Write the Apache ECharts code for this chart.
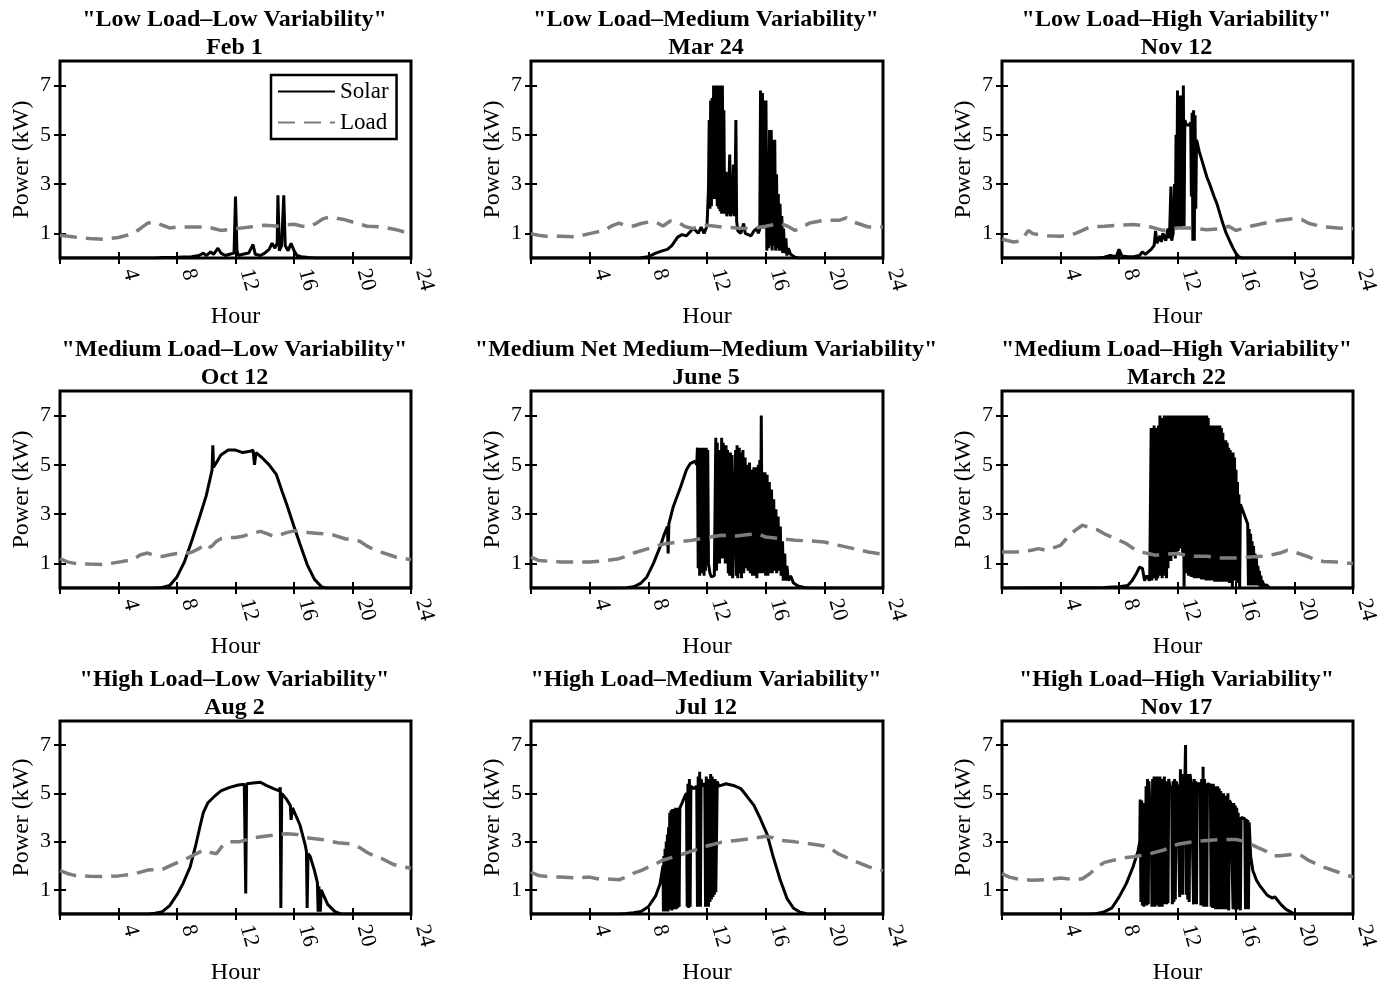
<!DOCTYPE html>
<html><head><meta charset="utf-8">
<script src="https://cdn.jsdelivr.net/npm/echarts@6/dist/echarts.min.js"></script>
<style>html,body{margin:0;padding:0;background:#fff}#c{width:1383px;height:986px}</style>
</head><body><div id="c"></div>
<script>
// ---------------- DATA ----------------
const titles = ['"Low Load\u2013Low Variability"','"Low Load\u2013Medium Variability"','"Low Load\u2013High Variability"',
 '"Medium Load\u2013Low Variability"','"Medium Net Medium\u2013Medium Variability"','"Medium Load\u2013High Variability"',
 '"High Load\u2013Low Variability"','"High Load\u2013Medium Variability"','"High Load\u2013High Variability"'];
const dates = ['Feb 1','Mar 24','Nov 12','Oct 12','June 5','March 22','Aug 2','Jul 12','Nov 17'];
const seriesNames = ['Solar','Load'];
const xTickStep = 4;
const yTickValues = [1,3,5,7];
const xLabel = 'Hour';
const yLabel = 'Power (kW)';

const solarFeb1 = [[0,0],[6.5,0],[7,0.02],[8,0.03],[9,0.05],[9.5,0.1],[9.8,0.2],[10.0,0.1],[10.3,0.25],[10.5,0.15],[10.8,0.4],[11.0,0.2],[11.3,0.1],[11.6,0.15],[11.9,0.2],[12.0,2.5],[12.1,0.3],[12.2,0.1],[12.5,0.15],[12.9,0.2],[13.2,0.55],[13.35,0.15],[13.7,0.1],[14.0,0.2],[14.3,0.35],[14.5,0.6],[14.7,0.4],[14.85,0.6],[14.9,2.55],[15.0,0.3],[15.15,0.5],[15.3,2.55],[15.4,0.5],[15.6,0.3],[15.8,0.6],[16.0,0.3],[16.2,0.1],[16.5,0.05],[17,0.02],[17.5,0],[24,0]];
const loadFeb1 = [[0,0.92],[1,0.85],[2,0.79],[3,0.76],[4,0.83],[5,0.99],[5.5,1.2],[6,1.42],[6.5,1.45],[7,1.33],[7.5,1.22],[8,1.25],[9,1.26],[10,1.26],[10.5,1.2],[11,1.12],[11.5,1.15],[12,1.19],[13,1.26],[14,1.33],[15,1.29],[15.5,1.35],[16,1.37],[16.5,1.3],[17,1.26],[17.5,1.4],[18,1.6],[18.5,1.67],[19,1.6],[19.5,1.55],[20,1.46],[21,1.29],[22,1.26],[23,1.15],[24,0.97]];

const solarMar24 = [[0,0],[7.4,0],[8.0,0.05],[8.5,0.2],[9.0,0.3],[9.3,0.35],[9.6,0.5],[10.0,0.85],[10.3,0.95],[10.6,0.9],[10.9,1.1],[11.1,1.2],[11.4,1.0],[11.6,1.25],[11.8,1.0],[12.0,1.3],[12.1,2.8],[12.15,5.6],[12.2,2.0],[12.25,6.4],[12.3,2.1],[12.35,6.5],[12.4,2.4],[12.45,7.0],[12.5,2.6],[12.55,7.0],[12.6,2.4],[12.65,7.0],[12.7,2.1],[12.75,7.0],[12.8,2.0],[12.85,7.0],[12.9,1.9],[12.95,7.0],[13.0,1.8],[13.05,7.0],[13.1,2.0],[13.15,6.0],[13.2,1.8],[13.3,3.5],[13.35,1.7],[13.45,2.0],[13.55,4.2],[13.6,1.7],[13.7,2.0],[13.8,3.8],[13.85,1.7],[13.9,1.9],[13.97,5.6],[14.02,1.5],[14.1,1.1],[14.3,1.0],[14.5,1.4],[14.6,1.0],[14.8,0.95],[15.0,0.9],[15.2,1.1],[15.4,1.2],[15.5,1.0],[15.6,1.2],[15.65,6.8],[15.72,1.3],[15.78,6.7],[15.84,1.2],[15.9,6.4],[15.96,1.3],[16.02,6.4],[16.08,0.3],[16.14,4.3],[16.2,0.4],[16.26,5.2],[16.32,0.5],[16.38,5.2],[16.44,0.3],[16.5,4.8],[16.56,0.5],[16.62,4.8],[16.68,0.3],[16.74,3.4],[16.8,0.4],[16.86,2.6],[16.92,0.3],[16.98,2.2],[17.04,0.3],[17.1,1.7],[17.16,0.2],[17.22,1.2],[17.3,0.2],[17.38,0.8],[17.45,0.1],[17.55,0.4],[17.7,0.15],[18.0,0.03],[18.3,0],[24,0]];
const loadMar24 = [[0,0.99],[0.5,0.92],[1,0.88],[2,0.88],[3,0.86],[4,0.99],[5,1.12],[5.5,1.3],[6,1.42],[6.5,1.3],[7,1.3],[7.5,1.4],[8,1.46],[8.5,1.46],[9,1.3],[9.5,1.5],[10,1.46],[10.5,1.28],[11,1.2],[12,1.33],[13,1.26],[14,1.22],[15,1.19],[16,1.29],[17,1.4],[17.5,1.29],[18,1.12],[18.5,1.26],[19,1.42],[20,1.53],[21,1.53],[21.5,1.63],[22,1.46],[23,1.26],[24,1.26]];

const solarNov12 = [[0,0],[6.5,0],[7.0,0.03],[7.4,0.1],[7.8,0.05],[8.0,0.35],[8.2,0.08],[8.6,0.05],[9.0,0.05],[9.4,0.1],[9.6,0.25],[9.8,0.15],[10.0,0.25],[10.2,0.35],[10.4,0.5],[10.5,1.1],[10.6,0.6],[10.8,0.9],[10.9,0.65],[11.0,1.0],[11.2,0.7],[11.35,1.2],[11.45,0.8],[11.55,2.9],[11.6,0.7],[11.7,1.0],[11.8,3.0],[11.85,1.2],[11.9,5.0],[11.95,1.3],[12.0,6.8],[12.05,1.2],[12.1,6.5],[12.15,1.3],[12.2,6.6],[12.25,1.2],[12.3,6.5],[12.35,1.4],[12.4,7.0],[12.45,1.3],[12.5,5.6],[12.6,5.4],[12.8,5.4],[12.9,5.5],[12.95,2.5],[13.0,5.9],[13.05,0.7],[13.1,6.0],[13.15,0.7],[13.2,5.8],[13.25,2.0],[13.3,4.8],[13.5,4.3],[13.75,3.8],[14.0,3.3],[14.2,3.0],[14.5,2.5],[14.7,2.2],[15.0,1.6],[15.1,1.4],[15.3,1.05],[15.6,0.65],[15.8,0.4],[16.0,0.18],[16.2,0.05],[16.4,0],[24,0]];
const loadNov12 = [[0,0.76],[0.8,0.65],[1.3,0.7],[1.8,1.12],[2.1,0.99],[3,0.9],[4,0.88],[5,0.99],[5.5,1.12],[6,1.26],[7,1.29],[8,1.33],[9,1.36],[10,1.29],[11,1.12],[12,1.22],[13,1.22],[14,1.15],[15,1.19],[15.5,1.29],[16,1.12],[17,1.29],[18,1.42],[19,1.53],[20,1.6],[20.5,1.56],[21,1.4],[22,1.26],[23,1.22],[24,1.19]];

const solarOct12 = [[0,0],[6.5,0],[7.0,0.02],[7.5,0.1],[8.0,0.45],[8.5,1.05],[9.0,1.9],[9.5,2.8],[10.0,3.75],[10.4,4.8],[10.45,5.8],[10.5,4.9],[10.8,5.2],[11.0,5.4],[11.5,5.6],[12.0,5.6],[12.5,5.5],[13.0,5.55],[13.2,5.6],[13.3,5.0],[13.4,5.5],[13.8,5.3],[14.3,5.0],[14.8,4.6],[15.2,3.9],[15.5,3.4],[16.0,2.5],[16.4,1.8],[16.9,0.95],[17.4,0.35],[17.9,0.04],[18.2,0],[24,0]];
const loadOct12 = [[0,1.19],[0.5,1.06],[1,1.0],[2,0.97],[3,0.95],[4,1.05],[5,1.15],[5.5,1.35],[6,1.42],[6.5,1.3],[7,1.28],[7.5,1.35],[8,1.4],[8.5,1.4],[9,1.45],[9.5,1.6],[10,1.8],[10.3,1.65],[10.7,1.9],[11,2.0],[11.5,2.05],[12,2.05],[12.5,2.1],[13,2.2],[13.7,2.3],[14.2,2.2],[14.6,2.1],[15,2.15],[15.5,2.25],[16,2.32],[16.5,2.3],[17,2.25],[17.5,2.22],[18,2.2],[18.7,2.15],[19.5,2.0],[20,1.95],[20.5,1.9],[21,1.7],[21.5,1.55],[22,1.45],[22.5,1.35],[23,1.25],[24,1.15]];

const solarJun5 = [[0,0],[6.0,0],[6.5,0.01],[7.0,0.05],[7.5,0.2],[7.9,0.45],[8.35,1.0],[8.8,1.67],[9.1,2.2],[9.3,2.5],[9.35,1.4],[9.4,2.6],[9.7,3.3],[10.2,4.1],[10.6,4.8],[10.85,5.05],[11.2,5.15],[11.3,5.0],[11.35,5.7],[11.4,0.8],[11.45,5.6],[11.5,0.5],[11.55,5.7],[11.6,0.6],[11.65,5.6],[11.7,0.8],[11.75,5.7],[11.8,0.5],[11.85,5.6],[11.9,0.7],[11.95,5.7],[12.0,0.9],[12.05,5.6],[12.1,1.0],[12.2,0.6],[12.3,0.45],[12.4,0.4],[12.5,0.5],[12.6,6.1],[12.65,0.7],[12.7,5.9],[12.75,1.2],[12.8,5.6],[12.85,1.0],[12.9,5.5],[12.95,1.3],[13.0,6.1],[13.05,1.2],[13.1,5.9],[13.15,1.3],[13.2,5.6],[13.25,1.0],[13.3,5.8],[13.35,1.4],[13.4,5.6],[13.45,0.6],[13.5,5.3],[13.55,0.5],[13.6,5.5],[13.65,0.6],[13.7,5.4],[13.75,0.4],[13.85,0.4],[13.95,5.6],[14.0,0.5],[14.05,5.8],[14.1,0.4],[14.2,5.7],[14.25,0.6],[14.3,5.5],[14.35,0.4],[14.45,5.6],[14.5,0.6],[14.6,5.3],[14.65,0.8],[14.75,5.0],[14.8,0.7],[14.9,5.1],[14.95,0.6],[15.05,4.8],[15.1,0.5],[15.2,4.9],[15.25,0.5],[15.35,4.9],[15.4,0.4],[15.5,5.0],[15.55,0.6],[15.6,5.2],[15.65,0.6],[15.7,7.0],[15.75,2.0],[15.8,4.7],[15.85,0.6],[15.95,4.7],[16.0,0.5],[16.1,4.6],[16.15,0.5],[16.25,4.3],[16.3,0.6],[16.4,4.0],[16.45,0.6],[16.55,3.6],[16.6,0.7],[16.7,3.2],[16.75,0.6],[16.85,2.9],[16.9,0.7],[17.0,2.5],[17.05,0.5],[17.15,1.9],[17.2,0.3],[17.3,1.4],[17.35,0.3],[17.45,0.9],[17.55,0.3],[17.7,0.5],[17.9,0.2],[18.2,0.08],[18.6,0.02],[19.0,0],[24,0]];
const loadJun5 = [[0,1.26],[0.5,1.12],[1,1.1],[2,1.06],[3,1.06],[4,1.06],[5,1.1],[6,1.19],[6.5,1.29],[7,1.42],[8,1.6],[8.5,1.69],[9,1.78],[10,1.87],[11,1.94],[12,2.05],[13,2.14],[14,2.11],[15,2.18],[15.5,2.2],[16,2.07],[17,2.0],[18,1.94],[19,1.91],[20,1.87],[21,1.73],[22,1.6],[23,1.46],[24,1.37]];

const solarMar22 = [[0,0],[7.0,0.02],[8.0,0.05],[8.6,0.1],[8.9,0.3],[9.2,0.6],[9.4,0.85],[9.6,0.8],[9.75,0.3],[9.9,0.5],[10.1,0.3],
 [10.2,6.5],[10.25,0.3],[10.3,6.5],[10.35,0.4],[10.4,6.6],[10.45,0.5],[10.5,6.5],[10.55,0.3],[10.6,6.3],[10.65,0.4],[10.7,6.6],[10.75,0.5],[10.8,7.0],[10.85,0.6],[10.9,6.9],[10.95,0.4],[11.0,6.9],[11.05,0.5],[11.1,7.0],[11.15,0.6],[11.2,7.0],[11.25,0.4],[11.3,7.0],[11.35,0.8],[11.4,7.0],[11.45,1.2],[11.5,7.0],[11.55,1.1],[11.6,7.0],[11.65,1.4],[11.7,7.0],[11.75,1.3],[11.8,7.0],[11.85,1.2],[11.9,7.0],[11.95,1.4],[12.0,7.0],[12.05,1.5],[12.1,7.0],[12.15,1.7],[12.2,7.0],[12.25,1.6],[12.3,7.0],[12.35,1.3],[12.4,7.0],[12.45,0.05],[12.5,7.0],[12.55,1.0],[12.6,7.0],[12.65,0.6],[12.7,7.0],[12.75,0.5],[12.8,7.0],[12.85,0.5],[12.9,7.0],[12.95,0.45],[13.0,7.0],[13.05,0.5],[13.1,7.0],[13.15,0.4],[13.2,7.0],[13.25,0.45],[13.3,7.0],[13.35,0.4],[13.4,7.0],[13.45,0.45],[13.5,7.0],[13.55,0.4],[13.6,7.0],[13.65,0.35],[13.7,7.0],[13.75,0.4],[13.8,7.0],[13.85,0.35],[13.9,7.0],[13.95,0.3],[14.0,7.0],[14.05,0.35],[14.1,6.9],[14.15,0.3],[14.2,6.6],[14.25,0.35],[14.3,6.6],[14.35,0.3],[14.4,6.6],[14.45,0.3],[14.5,6.55],[14.55,0.25],[14.6,6.6],[14.65,0.3],[14.7,6.6],[14.75,0.25],[14.8,6.55],[14.85,0.3],[14.9,6.6],[14.95,0.25],[15.0,6.5],[15.05,0.3],[15.1,6.3],[15.15,0.25],[15.2,6.0],[15.25,0.3],[15.3,6.0],[15.35,0.25],[15.4,5.9],[15.45,0.3],[15.5,5.7],[15.55,0.2],[15.6,5.6],[15.65,0.25],[15.7,5.5],[15.75,0.02],[15.8,5.5],[15.85,0.3],[15.9,5.3],[15.95,0.3],[16.0,4.8],[16.05,0.25],[16.1,4.3],[16.15,0.2],[16.2,3.8],[16.25,0.02],
 [16.3,3.4],[16.55,3.0],[16.8,2.6],[16.85,0.1],[16.9,2.4],[16.95,0.1],[17.0,2.2],[17.05,0.1],[17.1,1.9],[17.15,0.1],[17.2,1.7],[17.25,0.1],[17.3,1.4],[17.35,0.1],[17.4,1.2],[17.45,0.1],[17.5,0.9],[17.55,0.1],[17.6,0.7],[17.65,0.05],[17.7,0.5],[17.75,0.05],[17.8,0.3],[17.9,0.1],[18.0,0.05],[18.1,0.12],[18.3,0],[24,0]];
const loadMar22 = [[0,1.46],[1,1.46],[2,1.53],[2.5,1.6],[3,1.53],[4,1.73],[4.5,2.07],[5,2.34],[5.5,2.55],[6,2.45],[6.5,2.37],[7,2.2],[7.5,2.07],[8,1.94],[8.5,1.8],[9,1.6],[9.5,1.46],[10,1.4],[10.5,1.33],[11,1.37],[12,1.4],[13,1.29],[14,1.29],[15,1.22],[16,1.22],[17,1.26],[18,1.29],[19,1.42],[19.5,1.53],[20,1.46],[21,1.26],[21.5,1.12],[22,1.08],[23,1.06],[24,0.99]];

const solarAug2 = [[0,0],[6.0,0],[6.5,0.03],[7.0,0.1],[7.5,0.35],[8.0,0.8],[8.4,1.25],[8.9,1.95],[9.3,2.9],[9.6,3.7],[9.8,4.2],[10.1,4.6],[10.6,4.9],[11.0,5.1],[11.6,5.25],[12.2,5.35],[12.6,5.38],[12.66,5.45],[12.7,0.85],[12.76,5.4],[13.2,5.43],[13.7,5.46],[14.1,5.33],[14.6,5.2],[15.0,5.1],[15.06,5.25],[15.1,0.25],[15.16,5.0],[15.5,4.75],[15.75,4.5],[15.8,3.9],[15.9,4.4],[16.4,3.7],[16.75,2.9],[16.85,2.6],[16.9,0.25],[16.96,2.5],[17.1,2.4],[17.4,1.8],[17.6,1.3],[17.65,0.1],[17.7,1.15],[17.8,0.1],[17.86,1.0],[18.3,0.4],[18.8,0.1],[19.2,0],[24,0]];
const loadAug2 = [[0,1.8],[0.5,1.68],[1,1.6],[2,1.56],[3,1.55],[4,1.58],[5,1.65],[6,1.82],[7,1.85],[7.7,2.05],[8.5,2.25],[9,2.4],[9.8,2.65],[10.3,2.55],[10.7,2.5],[11.2,2.9],[11.6,3.0],[12.3,3.0],[13,3.12],[13.5,3.18],[14,3.22],[15,3.3],[15.5,3.33],[16.2,3.3],[17,3.15],[18,3.08],[19,2.95],[20,2.9],[20.5,2.75],[21,2.55],[21.5,2.4],[22,2.3],[22.8,2.05],[23.5,1.95],[24,1.9]];

const solarJul12 = [[0,0],[6.0,0],[6.5,0.02],[7.0,0.05],[7.5,0.1],[8.0,0.3],[8.5,0.75],[8.8,1.25],[9.0,2.0],[9.03,0.1],[9.06,2.4],[9.1,0.15],[9.14,2.7],[9.18,0.1],[9.22,3.0],[9.26,0.15],[9.3,3.3],[9.34,0.1],[9.38,3.6],[9.42,0.2],[9.46,4.2],[9.5,0.2],[9.55,4.3],[9.6,0.15],[9.65,4.35],[9.7,0.2],[9.75,4.3],[9.8,0.2],[9.85,4.4],[9.9,0.2],[9.95,4.3],[10.0,0.25],[10.05,4.4],[10.1,0.3],[10.15,4.4],[10.3,4.6],[10.5,4.9],[10.6,5.0],[10.65,0.3],[10.7,5.4],[10.75,0.25],[10.8,5.6],[10.85,0.3],[10.9,5.3],[11.1,5.2],[11.3,5.3],[11.35,0.3],[11.4,5.7],[11.45,0.35],[11.5,5.9],[11.55,0.3],[11.6,5.6],[11.65,5.3],[11.85,5.4],[11.9,0.3],[11.95,5.7],[12.0,0.4],[12.05,5.6],[12.1,0.3],[12.15,5.6],[12.2,0.5],[12.25,5.8],[12.3,0.6],[12.35,5.7],[12.4,0.7],[12.45,5.6],[12.5,0.8],[12.55,5.6],[12.6,0.9],[12.7,5.5],[12.8,5.3],[13.3,5.4],[13.8,5.33],[14.3,5.2],[14.7,4.9],[15.2,4.5],[15.6,4.0],[16.1,3.3],[16.5,2.4],[17.0,1.4],[17.45,0.65],[17.9,0.24],[18.35,0.07],[18.8,0.01],[19.0,0],[24,0]];
const loadJul12 = [[0,1.73],[0.5,1.6],[1,1.56],[2,1.53],[3,1.5],[4,1.53],[4.5,1.46],[5,1.46],[6,1.42],[6.5,1.53],[7,1.69],[7.5,1.8],[8,1.94],[8.5,2.07],[9,2.24],[10,2.41],[11,2.62],[12,2.82],[13,2.98],[14,3.05],[15,3.12],[16,3.22],[16.5,3.16],[17,3.05],[18,2.99],[19,2.91],[20,2.82],[20.5,2.68],[21,2.48],[22,2.21],[23,1.96],[24,1.8]];

const solarNov17 = [[0,0],[6.0,0],[6.5,0.02],[6.9,0.07],[7.5,0.24],[8.0,0.7],[8.5,1.26],[8.95,1.94],[9.3,2.6],[9.42,3.0],[9.45,4.75],[9.5,0.5],[9.55,4.7],[9.6,0.35],[9.65,4.6],[9.7,0.3],[9.75,4.5],[9.8,0.4],[9.85,5.3],[9.9,0.35],[9.95,5.6],[10.0,0.4],[10.05,5.5],[10.1,4.6],[10.2,4.8],[10.25,0.3],[10.3,5.6],[10.35,0.35],[10.4,5.7],[10.45,0.3],[10.5,5.6],[10.55,0.4],[10.6,5.7],[10.65,0.35],[10.7,5.6],[10.75,0.3],[10.8,5.7],[10.85,0.45],[10.9,5.5],[10.95,0.3],[11.0,5.6],[11.05,0.4],[11.1,5.7],[11.15,0.5],[11.2,5.5],[11.25,0.4],[11.3,5.4],[11.35,0.45],[11.4,5.6],[11.5,5.2],[11.6,5.3],[11.65,0.4],[11.7,5.5],[11.75,0.5],[11.8,5.6],[11.85,0.6],[11.9,5.5],[12.0,5.3],[12.1,5.35],[12.15,0.7],[12.2,6.0],[12.25,0.9],[12.3,5.8],[12.35,0.8],[12.4,5.5],[12.5,5.4],[12.55,7.0],[12.6,0.8],[12.65,5.8],[12.7,0.6],[12.75,5.6],[12.8,0.5],[12.85,5.8],[12.95,5.4],[13.05,5.4],[13.1,0.4],[13.15,5.6],[13.2,0.45],[13.25,5.5],[13.3,0.4],[13.35,5.4],[13.45,5.4],[13.55,5.4],[13.6,0.35],[13.65,5.6],[13.7,0.4],[13.75,6.1],[13.8,0.3],[13.85,5.6],[13.9,0.35],[13.95,5.4],[14.0,0.3],[14.05,5.4],[14.15,5.35],[14.25,5.35],[14.3,0.3],[14.35,5.4],[14.4,0.25],[14.45,5.4],[14.5,0.3],[14.55,5.3],[14.6,0.2],[14.65,5.3],[14.7,0.25],[14.75,5.3],[14.8,0.2],[14.85,5.2],[14.9,0.25],[14.95,5.1],[15.0,0.2],[15.05,5.0],[15.1,0.2],[15.15,5.0],[15.2,0.25],[15.25,4.9],[15.3,0.2],[15.35,4.9],[15.4,0.2],[15.45,5.0],[15.5,0.15],[15.55,4.7],[15.65,4.6],[15.75,4.55],[15.8,0.2],[15.85,4.6],[15.9,0.2],[15.95,4.5],[16.0,0.15],[16.05,4.4],[16.1,0.2],[16.15,4.2],[16.2,0.2],[16.25,4.0],[16.3,0.15],[16.35,4.0],[16.45,4.0],[16.6,3.95],[16.65,0.2],[16.7,3.95],[16.75,0.25],[16.8,3.9],[16.85,0.2],[16.9,3.8],[17.0,2.4],[17.15,1.8],[17.4,1.4],[17.6,1.2],[17.85,1.0],[18.1,0.8],[18.3,0.72],[18.5,0.66],[18.65,0.72],[18.8,0.6],[19.1,0.38],[19.4,0.2],[19.7,0.1],[20.0,0],[24,0]];
const loadNov17 = [[0,1.67],[0.5,1.53],[1,1.46],[2,1.4],[3,1.42],[4,1.49],[5,1.42],[5.5,1.46],[6,1.67],[6.5,1.94],[7,2.14],[8,2.28],[8.5,2.34],[9,2.37],[10,2.48],[11,2.64],[12,2.89],[13,2.99],[14,3.05],[15,3.09],[16,3.09],[16.5,3.02],[17,2.89],[17.5,2.75],[18,2.62],[18.5,2.41],[19,2.41],[20,2.48],[20.5,2.41],[21,2.21],[22,1.94],[23,1.73],[24,1.53]];

const solarSets = [solarFeb1, solarMar24, solarNov12, solarOct12, solarJun5, solarMar22, solarAug2, solarJul12, solarNov17];
const loadSets  = [loadFeb1, loadMar24, loadNov12, loadOct12, loadJun5, loadMar22, loadAug2, loadJul12, loadNov17];

// ---------------- LAYOUT / STYLE ----------------
const FONT = '"Liberation Serif","Times New Roman",serif';
const colLeft = [60, 531, 1002], colW = [351, 352, 351];
const rowTop = [61, 391, 721], plotH = 197;

const grid = [], xAxis = [], yAxis = [], series = [], title = [];
for (let i = 0; i < 9; i++) {
  const r = Math.floor(i / 3), c = i % 3;
  grid.push({left: colLeft[c], top: rowTop[r], width: colW[c], height: plotH,
    show: true, borderColor: '#000', borderWidth: 3, backgroundColor: 'transparent'});
  title.push({text: titles[i] + '\n' + dates[i], left: colLeft[c] + colW[c] / 2 - 1, top: rowTop[r] - 55,
    textAlign: 'center', padding: 0,
    textStyle: {fontFamily: FONT, fontWeight: 'bold', fontSize: 24, lineHeight: 28, color: '#000'}});
  const tick = {show: true, inside: true, length: 6, lineStyle: {color: '#000', width: 2}};
  xAxis.push({gridIndex: i, type: 'value', min: 0, max: 24, interval: xTickStep, position: 'bottom',
    axisLine: {show: false}, axisTick: tick, splitLine: {show: false},
    axisLabel: {show: true, rotate: -75, showMinLabel: false, fontFamily: FONT, fontSize: 22, color: '#000',
      margin: 14, align: 'left', verticalAlign: 'bottom'},
    name: xLabel, nameLocation: 'middle', nameGap: 47,
    nameTextStyle: {fontFamily: FONT, fontSize: 24, color: '#000'}});
  xAxis.push({gridIndex: i, type: 'value', min: 0, max: 24, interval: xTickStep, position: 'top',
    axisLine: {show: false}, axisTick: tick, axisLabel: {show: false}, splitLine: {show: false}});
  yAxis.push({gridIndex: i, type: 'value', min: 0, max: 8, position: 'left',
    axisLine: {show: false}, axisTick: Object.assign({customValues: yTickValues}, tick), splitLine: {show: false},
    axisLabel: {show: true, customValues: yTickValues, fontFamily: FONT, fontSize: 22, color: '#000', margin: 9},
    name: yLabel, nameLocation: 'middle', nameGap: 26, nameRotate: 90,
    nameTextStyle: {fontFamily: FONT, fontSize: 24, color: '#000'}});
  yAxis.push({gridIndex: i, type: 'value', min: 0, max: 8, position: 'right',
    axisLine: {show: false}, axisTick: Object.assign({customValues: yTickValues}, tick),
    axisLabel: {show: false}, splitLine: {show: false}});
  series.push({type: 'line', name: seriesNames[0], xAxisIndex: 2 * i, yAxisIndex: 2 * i, data: solarSets[i],
    symbol: 'none', showSymbol: false, z: 3, animation: false,
    lineStyle: {color: '#000', width: 3}, itemStyle: {color: '#000'}});
  series.push({type: 'line', name: seriesNames[1], xAxisIndex: 2 * i, yAxisIndex: 2 * i, data: loadSets[i],
    symbol: 'none', showSymbol: false, z: 4, animation: false,
    lineStyle: {color: '#7d7d7d', width: 3.5, type: [17, 9]}, itemStyle: {color: '#7d7d7d'}});
}

const chart = echarts.init(document.getElementById('c'), null, {renderer: 'canvas'});
chart.setOption({
  animation: false,
  backgroundColor: '#fff',
  title, grid, xAxis, yAxis, series,
  legend: {show: true, data: seriesNames, left: 271, top: 75, orient: 'vertical',
    itemWidth: 57, itemHeight: 14, itemGap: 8, padding: [5, 8, 5, 6],
    itemStyle: {opacity: 0, borderWidth: 0},
    borderColor: '#000', borderWidth: 2.5, backgroundColor: '#fff', selectedMode: false, z: 10,
    textStyle: {fontFamily: FONT, fontSize: 23, color: '#000'}}
});
</script></body></html>
